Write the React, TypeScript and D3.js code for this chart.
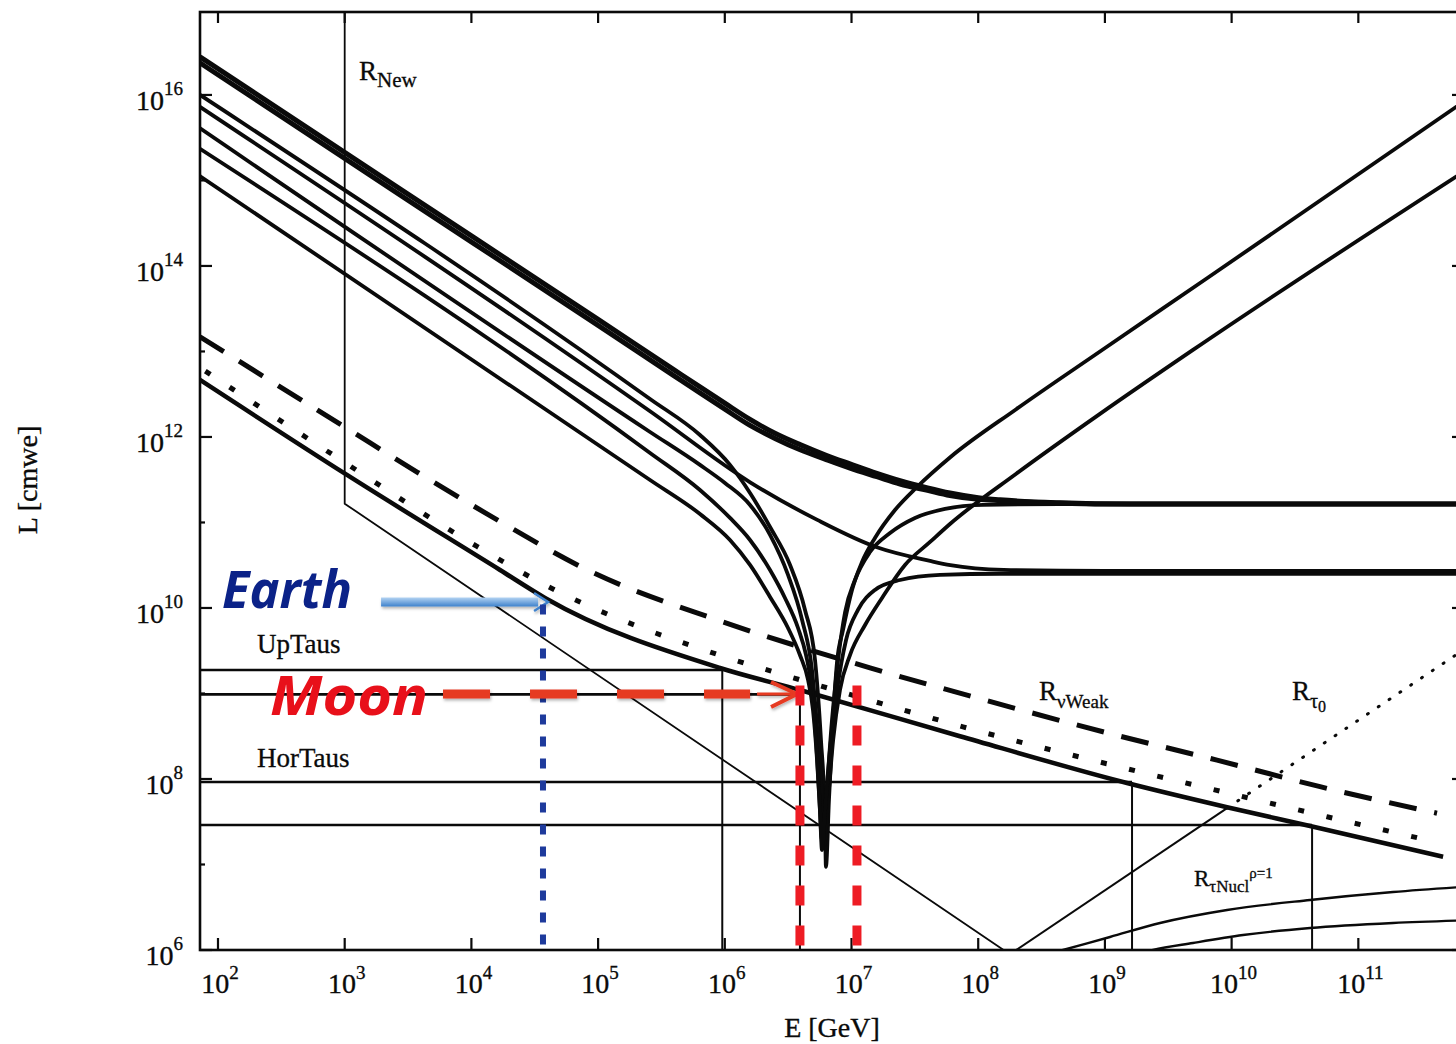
import React from 'react';
import * as d3 from 'd3';

type P = [number, number]; // [log10 E(GeV), log10 L(cmwe)]

// ---- axes ----
const E_MIN = 1.858;
const E_MAX = 11.834;
const L_MIN = 6;
const L_MAX = 16.97;
const xTickExps = [2, 3, 4, 5, 6, 7, 8, 9, 10, 11];
const yTickExps = [6, 7, 8, 9, 10, 11, 12, 13, 14, 15, 16];
const yLabelExps = [6, 8, 10, 12, 14, 16];

// ---- thick upper curve (two strands) ----
const curveA1: P[] = [[1.858, 16.445], [3.436, 14.902], [5.0, 13.375], [5.6, 12.785], [5.804, 12.585], [6.0, 12.395], [6.199, 12.205], [6.4, 12.04], [6.594, 11.91], [6.8, 11.785], [6.988, 11.685], [7.2, 11.575], [7.383, 11.49], [7.6, 11.405], [7.777, 11.345], [8.0, 11.29], [8.172, 11.265], [8.646, 11.23], [9.2, 11.216], [11.9, 11.215]];
const curveA2: P[] = [[1.858, 16.375], [3.436, 14.832], [5.0, 13.305], [5.6, 12.715], [5.804, 12.515], [6.0, 12.325], [6.199, 12.135], [6.4, 11.98], [6.594, 11.85], [6.8, 11.735], [6.988, 11.635], [7.2, 11.535], [7.383, 11.45], [7.6, 11.375], [7.777, 11.315], [8.0, 11.27], [8.172, 11.255], [8.646, 11.226], [9.2, 11.215], [11.9, 11.215]];

// ---- non-resonant curve flattening ----
const curveFlat: P[] = [[1.858, 15.86], [5.41, 12.30], [6.2, 11.47], [6.73, 11.03], [7.2, 10.71], [7.62, 10.55], [7.78, 10.5], [8.2, 10.445], [9.0, 10.433], [11.9, 10.433]];

// ---- resonance curves (Glashow dip) ----
const res1: P[] = [[1.858, 16.0], [5.41, 12.444], [5.804, 12.023], [6.041, 11.673], [6.199, 11.345], [6.357, 10.947], [6.515, 10.503], [6.633, 9.977], [6.712, 9.392], [6.759, 8.456], [6.791, 7.52], [6.798, 6.971], [6.822, 7.754], [6.854, 8.69], [6.885, 9.357], [6.933, 9.743], [7.004, 10.211], [7.083, 10.538], [7.185, 10.819], [7.343, 11.146], [7.517, 11.415], [7.777, 11.76], [8.3, 12.325], [8.961, 13.0], [9.8, 13.85], [11.9, 15.99]];
const res2: P[] = [[1.858, 15.61], [5.41, 12.058], [5.804, 11.673], [6.001, 11.462], [6.199, 11.205], [6.357, 10.854], [6.499, 10.386], [6.61, 9.86], [6.688, 9.275], [6.736, 8.456], [6.767, 7.754], [6.783, 7.228], [6.815, 7.754], [6.855, 8.456], [6.909, 9.041], [6.988, 9.45], [7.107, 9.801], [7.241, 10.117], [7.422, 10.503], [7.62, 10.772], [7.777, 10.982], [8.3, 11.57], [8.961, 12.27], [9.695, 13.018], [11.9, 15.167]];
const res3: P[] = [[1.858, 15.37], [5.41, 11.813], [5.804, 11.38], [6.041, 11.053], [6.199, 10.795], [6.357, 10.444], [6.475, 10.117], [6.578, 9.766], [6.641, 9.45], [6.688, 9.041], [6.72, 8.456], [6.743, 7.871], [6.767, 7.287], [6.798, 7.754], [6.846, 8.69], [6.894, 9.392], [6.949, 9.95], [7.028, 10.33], [7.146, 10.655], [7.304, 10.877], [7.501, 11.053], [7.738, 11.158], [8.038, 11.205], [8.646, 11.215], [11.9, 11.215]];
const res4: P[] = [[1.858, 15.05], [5.41, 11.497], [5.804, 11.099], [6.041, 10.795], [6.199, 10.503], [6.357, 10.129], [6.499, 9.766], [6.593, 9.45], [6.657, 9.158], [6.696, 8.807], [6.728, 8.222], [6.751, 7.637], [6.767, 7.17], [6.791, 7.637], [6.83, 8.339], [6.886, 9.041], [6.957, 9.626], [7.051, 9.977], [7.185, 10.211], [7.383, 10.327], [7.699, 10.386], [8.172, 10.4], [8.961, 10.4], [11.9, 10.4]];

// ---- lower family ----
const weakDashed: P[] = [[1.858, 13.17], [3.018, 12.1], [3.571, 11.59], [4.17, 11.06], [4.936, 10.43], [5.962, 9.85], [7.146, 9.3], [7.912, 8.98], [9.096, 8.51], [9.885, 8.22], [10.698, 7.91], [11.621, 7.6]];
const midDotted: P[] = [[1.9, 12.77], [2.908, 11.79], [4.044, 10.72], [4.581, 10.27], [6.017, 9.42], [6.459, 9.22], [7.17, 8.91], [7.88, 8.61], [9.064, 8.16], [10.043, 7.81], [10.777, 7.55], [11.503, 7.3]];
const tauSolid: P[] = [[1.858, 12.667], [3.018, 11.556], [4.226, 10.444], [4.581, 10.117], [5.962, 9.298], [6.593, 9.041], [7.856, 8.5], [9.174, 7.953], [9.964, 7.67], [10.619, 7.45], [11.669, 7.09]];

// ---- thin straight lines ----
const rNew: P[] = [[3.0, 16.97], [3.0, 11.22], [8.3, 5.9]];
const rTau0Solid: P[] = [[8.2, 5.9], [9.964, 7.66]];
const rTau0Dotted: P[] = [[9.964, 7.66], [11.9, 9.58]];
const rNuclUpper: P[] = [[8.5, 5.93], [8.669, 6.0], [9.04, 6.152], [9.435, 6.316], [9.964, 6.468], [10.619, 6.585], [11.274, 6.678], [11.9, 6.745]];
const rNuclLower: P[] = [[9.2, 5.93], [9.38, 6.0], [9.695, 6.082], [10.09, 6.175], [10.619, 6.257], [11.274, 6.316], [11.9, 6.35]];

// horizontal thresholds: [log L, log E where it stops and drops]
const hLevels: P[] = [[9.275, 5.98], [8.99, 6.593], [7.965, 9.214], [7.462, 10.635]];

// annotations (data units)
const earthArrow: P[] = [[3.287, 10.07], [4.605, 10.07]];
const earthDrop: P[] = [[4.565, 10.04], [4.565, 6.0]];
const moonArrow: P[] = [[3.776, 8.994], [6.57, 8.994]];
const moonDrops: number[] = [6.593, 7.043];

const W = 1456;
const H = 1044;
const PL = 200, PR = 1464, PT = 12, PB = 950;
const SERIF = '"Liberation Serif", "Times New Roman", serif';
const SANS = '"Open Sans", "Noto Sans", sans-serif';

export default function App() {
  const x = d3.scaleLog().domain([10 ** E_MIN, 10 ** E_MAX]).range([PL, PR]);
  const y = d3.scaleLog().domain([10 ** L_MIN, 10 ** L_MAX]).range([PB, PT]);
  const px = (e: number) => x(10 ** e);
  const py = (l: number) => y(10 ** l);
  const smooth = d3.line<P>().x(d => px(d[0])).y(d => py(d[1])).curve(d3.curveMonotoneX);
  const straight = d3.line<P>().x(d => px(d[0])).y(d => py(d[1]));

  const ink = '#0a0a0a';
  const resCurves = [res1, res2, res3, res4];

  const ay = py(earthArrow[0][1]);
  const ax0 = px(earthArrow[0][0]);
  const ax1 = px(earthArrow[1][0]);
  const my = py(moonArrow[0][1]);
  const mx0 = px(moonArrow[0][0]);
  const mx1 = px(moonArrow[1][0]);

  return (
    <svg width={W} height={H} viewBox={`0 0 ${W} ${H}`} style={{ position: 'absolute', left: 0, top: 0, background: '#fff' }}>
      <defs>
        <clipPath id="plotClip">
          <rect x={PL} y={PT} width={PR - PL} height={PB - PT} />
        </clipPath>
        <linearGradient id="blueGrad" x1="0" y1="0" x2="0" y2="1">
          <stop offset="0" stopColor="#b3d3f2" />
          <stop offset="1" stopColor="#3f82cc" />
        </linearGradient>
        <filter id="shadow" x="-10%" y="-50%" width="120%" height="200%">
          <feDropShadow dx="1" dy="2" stdDeviation="1.6" floodColor="#000" floodOpacity="0.3" />
        </filter>
      </defs>
      <rect x={0} y={0} width={W} height={H} fill="#fff" />

      <g clipPath="url(#plotClip)" fill="none" stroke={ink} strokeLinejoin="round">
        {/* thin straight lines */}
        <path d={straight(rNew) || ''} strokeWidth={1.8} />
        <path d={straight(rTau0Solid) || ''} strokeWidth={2} />
        <path d={straight(rTau0Dotted) || ''} strokeWidth={3} strokeDasharray="1 12" strokeLinecap="round" />
        <path d={smooth(rNuclUpper) || ''} strokeWidth={2.4} />
        <path d={smooth(rNuclLower) || ''} strokeWidth={2.4} />
        {hLevels.map((h, i) => (
          <g key={i}>
            <line x1={px(E_MIN)} x2={px(h[1])} y1={py(h[0])} y2={py(h[0])} strokeWidth={2.6} />
            <line x1={px(h[1])} x2={px(h[1])} y1={py(h[0])} y2={py(L_MIN)} strokeWidth={2} />
          </g>
        ))}

        {/* lower family */}
        <path d={smooth(tauSolid) || ''} strokeWidth={4.5} />
        <path d={smooth(midDotted) || ''} strokeWidth={5} strokeDasharray="6 23" />
        <path d={smooth(weakDashed) || ''} strokeWidth={5} strokeDasharray="28 18" />

        {/* upper family */}
        {resCurves.map((c, i) => (
          <path key={i} d={smooth(c) || ''} strokeWidth={3.8} />
        ))}
        <path d={smooth(curveFlat) || ''} strokeWidth={3.8} />
        <path d={smooth(curveA1) || ''} strokeWidth={5} />
        <path d={smooth(curveA2) || ''} strokeWidth={5} />
      </g>

      {/* frame and ticks */}
      <rect x={PL} y={PT} width={PR - PL} height={PB - PT} fill="none" stroke={ink} strokeWidth={2.6} />
      <g stroke={ink} strokeWidth={2.2}>
        {xTickExps.map(e => (
          <g key={e}>
            <line x1={px(e)} x2={px(e)} y1={PB} y2={PB - 12} />
            <line x1={px(e)} x2={px(e)} y1={PT} y2={PT + 11} />
          </g>
        ))}
        {yTickExps.map(e => {
          const len = e % 2 === 0 ? 12 : 5;
          return (
            <g key={e}>
              <line x1={PL} x2={PL + len} y1={py(e)} y2={py(e)} />
              <line x1={PR} x2={PR - len} y1={py(e)} y2={py(e)} />
            </g>
          );
        })}
      </g>

      {/* tick labels */}
      <g fontFamily={SERIF} fill={ink} stroke={ink} strokeWidth={0.35} fontSize={28}>
        {xTickExps.map(e => (
          <text key={e} x={px(e) + 2} y={993} textAnchor="middle">
            10<tspan fontSize={19} dy={-14}>{e}</tspan>
          </text>
        ))}
        {yLabelExps.map(e => (
          <text key={e} x={183} y={py(e) + 15} textAnchor="end">
            10<tspan fontSize={19} dy={-15}>{e}</tspan>
          </text>
        ))}
        <text x={832} y={1037} textAnchor="middle">E [GeV]</text>
        <text transform="translate(37,480) rotate(-90)" textAnchor="middle">L [cmwe]</text>
      </g>

      {/* curve labels */}
      <g fontFamily={SERIF} fill={ink} stroke={ink} strokeWidth={0.3}>
        <text x={359} y={80} fontSize={27}>R<tspan fontSize={21} dy={7}>New</tspan></text>
        <text x={1039} y={700} fontSize={27}>R<tspan fontSize={19} dy={8}>νWeak</tspan></text>
        <text x={1292} y={700} fontSize={27}>R<tspan fontSize={20} dy={8}>τ</tspan><tspan fontSize={16} dy={4}>0</tspan></text>
        <text x={1194} y={886} fontSize={23}>R<tspan fontSize={17} dy={6}>τNucl</tspan><tspan fontSize={15} dy={-14}>ρ=1</tspan></text>
        <text x={257} y={653} fontSize={27}>UpTaus</text>
        <text x={257} y={767} fontSize={27}>HorTaus</text>
      </g>

      {/* Earth annotation */}
      <text x={222} y={608} fontFamily={SANS} fontStyle="italic" fontWeight={700} fontSize={52} fill="#0b2288" textLength={130} lengthAdjust="spacingAndGlyphs">Earth</text>
      <g filter="url(#shadow)">
        <rect x={ax0} y={ay - 4.5} width={ax1 - ax0 - 10} height={9} fill="url(#blueGrad)" />
        <polyline points={`${ax1 - 14},${ay - 9} ${ax1},${ay} ${ax1 - 14},${ay + 9}`} fill="none" stroke="#3f82cc" strokeWidth={2.5} />
      </g>
      <line x1={px(earthDrop[0][0])} x2={px(earthDrop[1][0])} y1={py(earthDrop[0][1])} y2={py(earthDrop[1][1])} stroke="#1e3a9c" strokeWidth={6} strokeDasharray="10 12" />

      {/* Moon annotation */}
      <text x={270} y={715} fontFamily={SANS} fontStyle="italic" fontWeight={700} fontSize={54} fill="#e8101a" textLength={158} lengthAdjust="spacingAndGlyphs">Moon</text>
      <g filter="url(#shadow)">
        <line x1={mx0} x2={mx1 - 47} y1={my} y2={my} stroke="#e63a22" strokeWidth={9} strokeDasharray="47 40" />
        <line x1={mx1 - 40} x2={mx1} y1={my} y2={my} stroke="#e63a22" strokeWidth={3} />
        <polyline points={`${mx1 - 26},${my - 12} ${mx1},${my} ${mx1 - 26},${my + 13}`} fill="none" stroke="#e63a22" strokeWidth={4} />
      </g>
      {moonDrops.map((e, i) => (
        <line key={i} x1={px(e)} x2={px(e)} y1={py(moonArrow[0][1] + 0.1)} y2={py(L_MIN)} stroke="#ee1c24" strokeWidth={9} strokeDasharray="20 20" />
      ))}
    </svg>
  );
}
